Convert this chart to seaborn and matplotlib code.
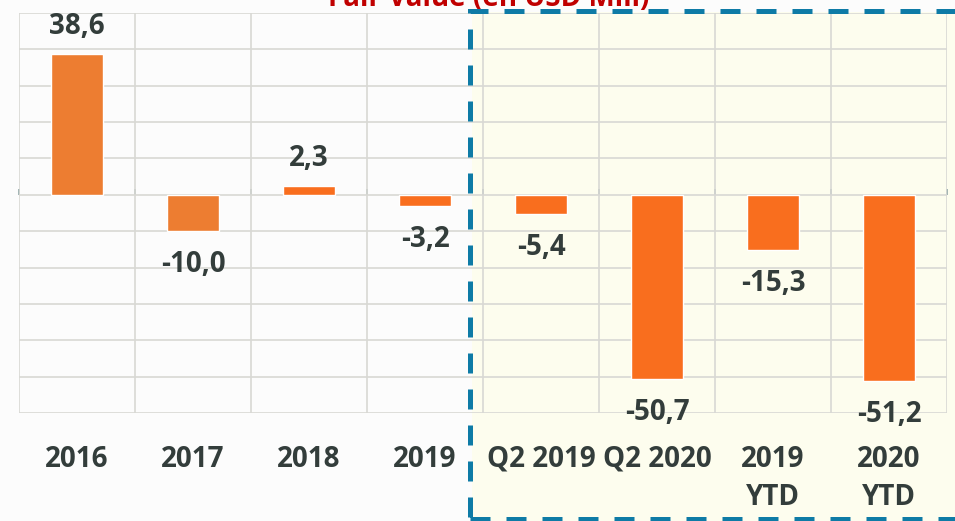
# Fair value bar chart (seaborn), Excel-like look

import pandas as pd
import seaborn as sns
import matplotlib.pyplot as plt
from matplotlib.patches import Rectangle

periods = ['2016', '2017', '2018', '2019', 'Q2 2019', 'Q2 2020', '2019\nYTD', '2020\nYTD']
fair_value = [38.6, -10.0, 2.3, -3.2, -5.4, -50.7, -15.3, -51.2]
bar_colors = ['#ED7D31', '#ED7D31', '#F96E1E', '#F96E1E', '#F96E1E', '#F96E1E', '#F96E1E', '#F96E1E']
title = 'Fair Value (en USD Mill)'

df = pd.DataFrame({'period': periods, 'value': fair_value})

sns.set_style('white')
plt.rcParams['font.family'] = ['Open Sans', 'DejaVu Sans']
text_color = '#333D3B'

fig = plt.figure(figsize=(9.55, 5.21), dpi=100, facecolor='#FCFCFC')
ax = fig.add_axes([19 / 955, 1 - 413 / 521, 928 / 955, 400 / 521])
ax.set_facecolor('none')

# highlighted (light yellow) region with dashed blue frame
fig.patches.append(Rectangle((472 / 955, 0), 1 - 472 / 955, 1 - 12 / 521,
                             transform=fig.transFigure, facecolor='#FDFDEE',
                             edgecolor='none', zorder=-5))
fig.patches.append(Rectangle((470 / 955, 2 / 521), 500 / 955, 1 - 13 / 521,
                             transform=fig.transFigure, facecolor='none',
                             edgecolor='#0E7BA6', linewidth=3.6,
                             linestyle=(0, (4.0, 3.2)), zorder=10))

sns.barplot(data=df, x='period', y='value', hue='period', palette=bar_colors,
            legend=False, width=0.45, saturation=1, ax=ax, zorder=3)

ax.set_ylim(-60, 50)
ax.set_xlim(-0.5, len(periods) - 0.5)
ax.set_yticks(range(-60, 51, 10))
ax.set_yticklabels([])
ax.set_xticks(range(len(periods)), labels=periods)
ax.set_xticks([i - 0.5 for i in range(len(periods) + 1)], minor=True)
ax.tick_params(axis='y', length=0)
ax.tick_params(axis='x', which='both', length=0, pad=23, labelsize=20, labelcolor=text_color)
for lbl in ax.get_xticklabels():
    lbl.set_fontweight('bold')
    lbl.set_linespacing(1.42)
    lbl.set_verticalalignment('top')

ax.grid(True, axis='y', which='major', color='#D8D8D4', linewidth=1.2)
ax.grid(True, axis='x', which='minor', color='#D8D8D4', linewidth=1.2)
ax.set_axisbelow(True)
for s in ax.spines.values():
    s.set_visible(False)
ax.set_xlabel('')
ax.set_ylabel('')

# zero axis line with small tick marks at category boundaries
zero_ax = ax.secondary_xaxis(60 / 110)
zero_ax.set_xticks([i - 0.5 for i in range(len(periods) + 1)], labels=[])
zero_ax.tick_params(length=4, width=1.2, color='#93A8A8', direction='out')
zero_ax.spines['bottom'].set_color('#93A8A8')
zero_ax.spines['bottom'].set_linewidth(1.6)
for name in ('top', 'left', 'right'):
    zero_ax.spines[name].set_visible(False)

# value labels with comma decimal separator
for i, v in enumerate(fair_value):
    txt = f'{v:.1f}'.replace('.', ',')
    ax.annotate(txt, (i, v), xytext=(0, 20 if v > 0 else -24), textcoords='offset points',
                ha='center', va='center', fontsize=20, fontweight='bold',
                color=text_color, zorder=5, annotation_clip=False)

fig.text(489 / 955, 1 - 6 / 521, title, ha='center', va='baseline',
         fontsize=20, fontweight='bold', color='#C00000')

plt.savefig('out.png', dpi=100, facecolor=fig.get_facecolor())
